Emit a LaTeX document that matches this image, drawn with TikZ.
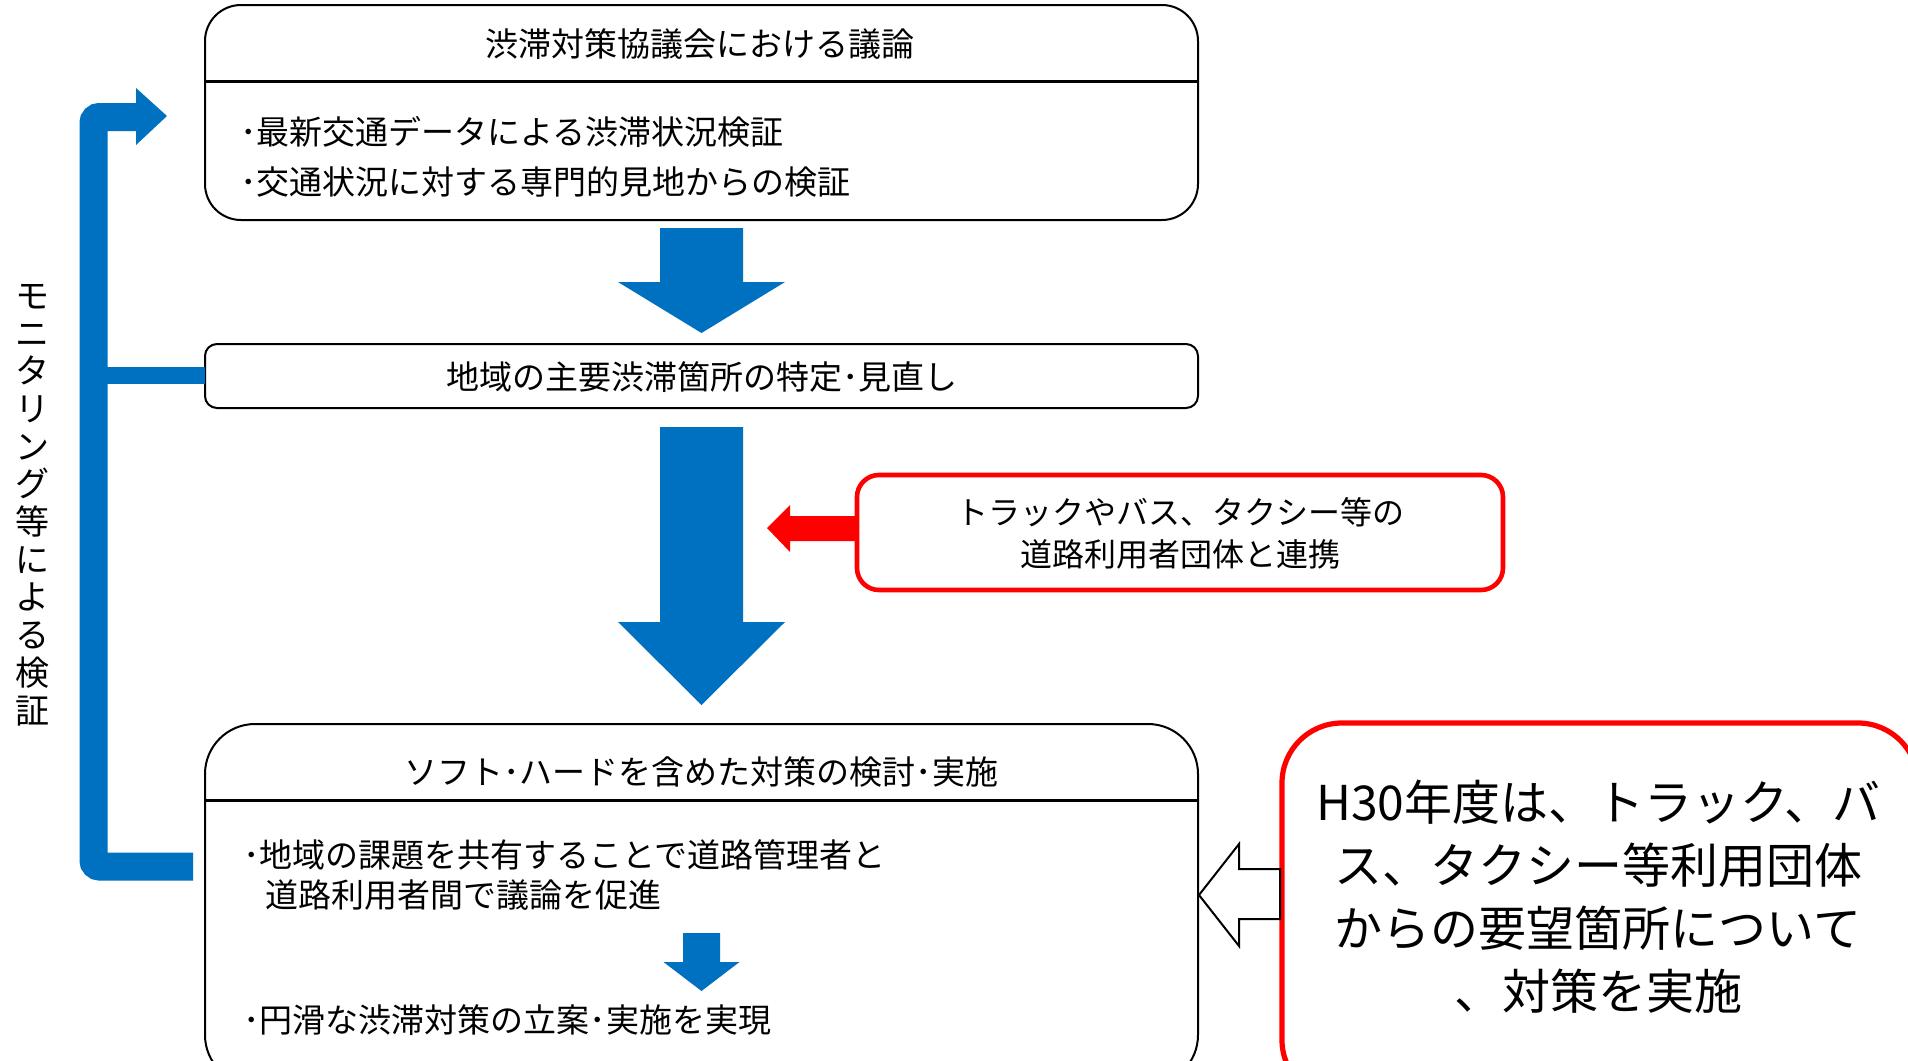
\documentclass[tikz,border=0pt]{standalone}
\usepackage{fontspec}
\setmainfont{Noto Sans CJK JP}
\definecolor{mblue}{HTML}{0070C0}
\definecolor{mred}{HTML}{FF0000}
\tikzset{
  boxline/.style={draw=black, line width=1pt},
  sepline/.style={draw=black, line width=1.5pt},
  redbox/.style={draw=mred, line width=2.3pt},
  txt/.style={inner sep=0pt, font=\fontsize{16.5}{20}\selectfont},
  bullet/.style={txt, anchor=west},
}
\newcommand\downblock[6]{\fill[mblue] (#1-#5,#2) -- (#1+#5,#2) -- (#1+#5,#3) -- (#1+#6,#3) -- (#1,#4) -- (#1-#6,#3) -- (#1-#5,#3) -- cycle;}
\begin{document}
\begin{tikzpicture}[x=0.5pt,y=-0.5pt]
\useasboundingbox (0,0) rectangle (1908,1061);
\clip (0,0) rectangle (1908,1061);
\fill[white] (0,0) rectangle (1908,1061);

% boxes
\draw[boxline, rounded corners=18pt] (205,5) rectangle (1198,220);
\draw[sepline] (205,81) -- (1198,81);
\draw[boxline, rounded corners=6pt] (205,344) rectangle (1198,408);
\draw[redbox, rounded corners=11pt] (857,475) rectangle (1503,590);
\draw[boxline, rounded corners=25pt] (205,724) rectangle (1198,1085);
\draw[sepline] (205,800) -- (1198,800);
\draw[redbox, line width=2.6pt, rounded corners=30pt] (1282,723) rectangle (1918,1100);

% monitoring bracket
\draw[mblue, line width=14pt, rounded corners=3pt] (137,117) -- (93.5,117) -- (93.5,866.5) -- (193,866.5);
\fill[mblue] (136,88) -- (167,116) -- (136,145) -- cycle;
\draw[mblue, line width=8.5pt] (93.5,375.5) -- (205,375.5);

% block arrows
\downblock{701.5}{228}{282}{333}{41.5}{83.5}
\downblock{701.5}{427}{622}{705}{41.5}{83.5}
\downblock{701.5}{933}{962}{991}{18.5}{38}
\fill[mred] (857,516) -- (790,516) -- (790,505) -- (767,528) -- (790,552) -- (790,541) -- (857,541) -- cycle;
\draw[line width=1pt, fill=white] (1199,895) -- (1239,844) -- (1239,869) -- (1280,869) -- (1280,919) -- (1239,919) -- (1239,946) -- cycle;

% texts
\node[txt] (t1) at (700,44) {渋滞対策協議会における議論};
\node[bullet] (b1) at (240,132) {･最新交通データによる渋滞状況検証};
\node[bullet] (b2) at (240,182) {･交通状況に対する専門的見地からの検証};
\node[txt] (t2) at (702,377) {地域の主要渋滞箇所の特定･見直し};
\node[txt, align=center, font=\fontsize{16}{21}\selectfont] (t3) at (1180,533) {トラックやバス、タクシー等の\\道路利用者団体と連携};
\node[txt] (t4) at (701,772) {ソフト･ハードを含めた対策の検討･実施};
\node[bullet] (b3) at (243,855) {･地域の課題を共有することで道路管理者と};
\node[bullet] (b3b) at (265,895) {道路利用者間で議論を促進};
\node[bullet] (b4) at (243,1020) {･円滑な渋滞対策の立案･実施を実現};
\node[inner sep=0pt, align=center, font=\fontsize{24}{31.5}\selectfont] (t5) at (1598,897) {H30年度は、トラック、バ\\ス、タクシー等利用団体\\からの要望箇所について\\、対策を実施};
\node[inner sep=0pt, align=center, font=\fontsize{17}{18.85}\selectfont] (mon) at (33,505) {モ\\ニ\\タ\\リ\\ン\\グ\\等\\に\\よ\\る\\検\\証};
\end{tikzpicture}
\end{document}
